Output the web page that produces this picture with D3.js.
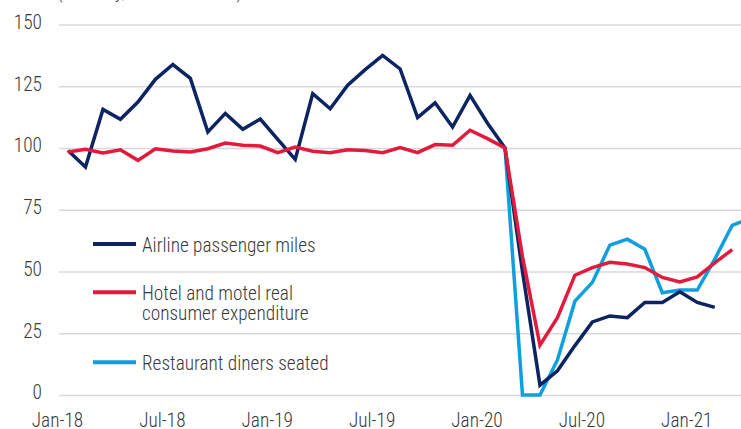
<!DOCTYPE html>
<html>
<head>
<meta charset="utf-8">
<script src="https://cdn.jsdelivr.net/npm/d3@7"></script>
<style>
  html, body { margin: 0; padding: 0; background: #fff; }
  svg { display: block; }
  .axis text { font-family: "Roboto Condensed", sans-serif; font-weight: 300; font-size: 19.3px; fill: #3a3a3a; }
  .axis path { display: none; }
</style>
</head>
<body>
<svg id="chart" width="741" height="429"></svg>
<script>
// index, Jan-18 onwards (monthly)
const tickMonths = [0, 6, 12, 18, 24, 30, 36];
const tickLabels = ['Jan-18', 'Jul-18', 'Jan-19', 'Jul-19', 'Jan-20', 'Jul-20', 'Jan-21'];
const yTicks = [0, 25, 50, 75, 100, 125, 150];

const airline = [99, 92.3, 115.6, 111.6, 118.6, 127.8, 133.8, 128.2, 106.5, 114, 107.6, 111.7,
  103.5, 95.4, 122, 115.9, 125.4, 131.7, 137.5, 132, 112.3, 118.3, 108.5, 121.3,
  110, 100, 50, 4, 9.8, 20, 29.6, 32, 31.3, 37.5, 37.5, 41.8, 37.5, 35.5];
const hotel = [98.4, 99.5, 98, 99.3, 95, 99.7, 98.8, 98.4, 99.7, 102, 101.1, 100.8,
  98.1, 100.4, 98.7, 98.1, 99.3, 99, 98.1, 100.2, 98.1, 101.4, 101.1, 107.2,
  103.8, 100, 56, 20.2, 31.3, 48.5, 51.6, 53.7, 53, 51.6, 47.6, 45.8, 47.8, 53.5, 58.9];
const restaurant = [null, null, null, null, null, null, null, null, null, null, null, null,
  null, null, null, null, null, null, null, null, null, null, null, null,
  null, 100, 0, 0, 14.2, 38, 45.6, 60.7, 63.1, 59, 41.4, 42.5, 42.5, 55, 68.7, 71.5];

const series = [
  { name: 'Restaurant diners seated', values: restaurant, color: '#0ea0dd' },
  { name: 'Airline passenger miles', values: airline, color: '#0c2461' },
  { name: 'Hotel and motel real consumer expenditure', values: hotel, color: '#e21a3c' }
];
const legendItems = [
  { lines: ['Airline passenger miles'], color: '#0c2461' },
  { lines: ['Hotel and motel real', 'consumer expenditure'], color: '#e21a3c' },
  { lines: ['Restaurant diners seated'], color: '#0ea0dd' }
];

const FONT = '"Roboto Condensed", sans-serif';
const svg = d3.select('#chart');
const x = d3.scaleLinear().domain([0, 39]).range([68, 68 + 39 * 17.48]);
const y = d3.scaleLinear().domain([0, 150]).range([395, 24.5]);
const gridLeft = 59, gridRight = 741;

// subtitle, cut off at the top edge as in the source
svg.append('text')
  .attr('x', 57).attr('y', -2.5)
  .attr('font-family', FONT).attr('font-weight', 300).attr('font-size', 19.3).attr('fill', '#3a3a3a')
  .text('(Monthly, Feb 2020=100)');

const yAxis = svg.append('g').attr('class', 'axis')
  .attr('transform', `translate(${gridLeft},0)`)
  .call(d3.axisLeft(y).tickValues(yTicks).tickSize(-(gridRight - gridLeft)).tickPadding(17));
yAxis.selectAll('line').attr('stroke', '#d9d9d9').attr('stroke-width', 1.6);
yAxis.selectAll('text').attr('dy', 3.8);

const xAxis = svg.append('g').attr('class', 'axis')
  .attr('transform', 'translate(0,395)')
  .call(d3.axisBottom(x).tickValues(tickMonths).tickFormat((d, i) => tickLabels[i]).tickSize(0).tickPadding(0));
xAxis.selectAll('text').attr('dx', -11).attr('dy', 0).attr('y', 31.5);

const line = d3.line()
  .defined(d => d != null)
  .x((d, i) => x(i))
  .y(d => y(d));

series.forEach(s => {
  svg.append('path')
    .datum(s.values)
    .attr('fill', 'none')
    .attr('stroke', s.color)
    .attr('stroke-width', 3.5)
    .attr('stroke-linejoin', 'miter')
    .attr('d', line);
});

// legend
const legendY = [244, 292.3, 362.3];
legendItems.forEach((item, i) => {
  const g = svg.append('g').attr('transform', `translate(93,${legendY[i]})`);
  g.append('line').attr('x1', 0).attr('x2', 43).attr('stroke', item.color).attr('stroke-width', 4);
  const t = g.append('text')
    .attr('font-family', FONT).attr('font-weight', 300).attr('font-size', 19.3).attr('fill', '#3a3a3a');
  item.lines.forEach((l, j) => {
    t.append('tspan').attr('x', 49).attr('y', 7.5 + j * 20).text(l);
  });
});
</script>
</body>
</html>
